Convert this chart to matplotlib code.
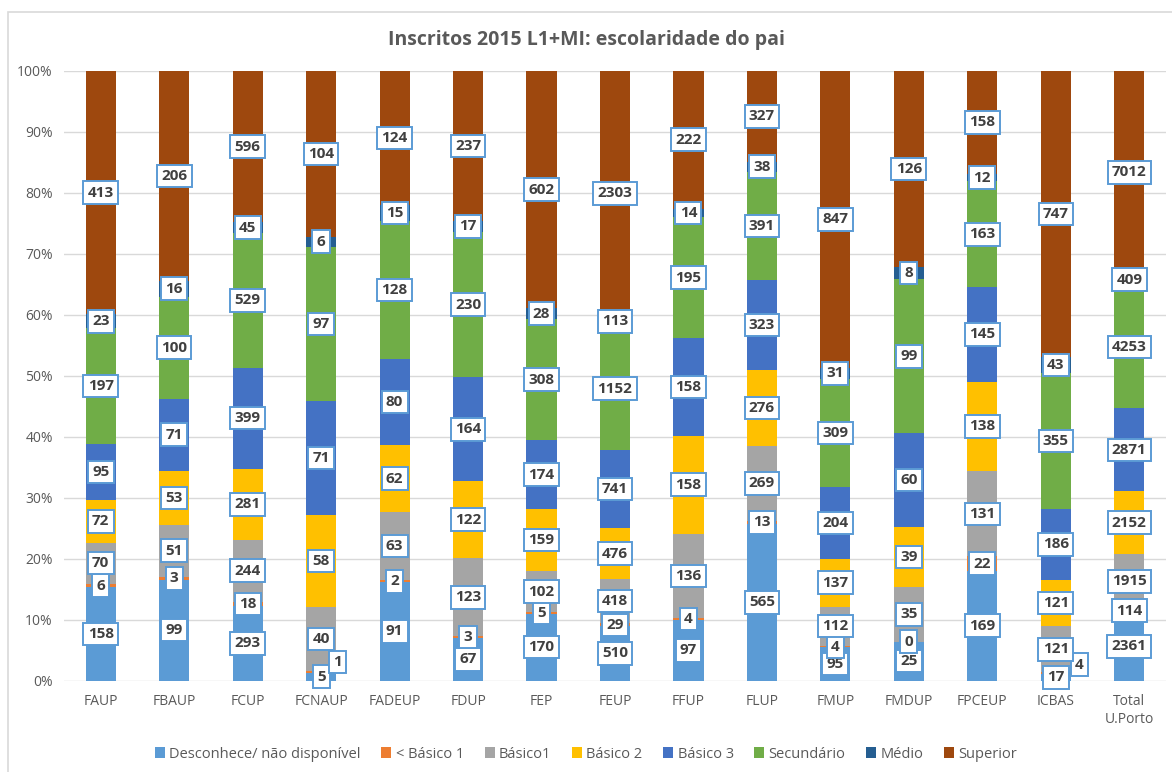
import matplotlib
matplotlib.use("Agg")
import matplotlib.pyplot as plt
import numpy as np
from matplotlib.patches import Rectangle

categories = ["FAUP", "FBAUP", "FCUP", "FCNAUP", "FADEUP", "FDUP", "FEP", "FEUP",
              "FFUP", "FLUP", "FMUP", "FMDUP", "FPCEUP", "ICBAS", "Total\nU.Porto"]
series_names = ["Desconhece/ não disponível", "< Básico 1", "Básico1", "Básico 2",
                "Básico 3", "Secundário", "Médio", "Superior"]

desconhece = [158, 99, 293, 5, 91, 67, 170, 510, 97, 565, 95, 25, 169, 17, 2361]
menos_basico1 = [6, 3, 18, 1, 2, 3, 5, 29, 4, 13, 4, 0, 22, 4, 114]
basico1 = [70, 51, 244, 40, 63, 123, 102, 418, 136, 269, 112, 35, 131, 121, 1915]
basico2 = [72, 53, 281, 58, 62, 122, 159, 476, 158, 276, 137, 39, 138, 121, 2152]
basico3 = [95, 71, 399, 71, 80, 164, 174, 741, 158, 323, 204, 60, 145, 186, 2871]
secundario = [197, 100, 529, 97, 128, 230, 308, 1152, 195, 391, 309, 99, 163, 355, 4253]
medio = [23, 16, 45, 6, 15, 17, 28, 113, 14, 38, 31, 8, 12, 43, 409]
superior = [413, 206, 596, 104, 124, 237, 602, 2303, 222, 327, 847, 126, 158, 747, 7012]

colors = ["#5B9BD5", "#ED7D31", "#A5A5A5", "#FFC000", "#4472C4", "#70AD47", "#255E91", "#9E480E"]

data = np.array([desconhece, menos_basico1, basico1, basico2, basico3,
                 secundario, medio, superior], dtype=float)
totals = data.sum(axis=0)
pct = data / totals * 100

# label displacement (category units, percent) for crowded labels
label_shift = {(1, 3): (0.22, 1.6), (1, 13): (0.32, 1.4)}

plt.rcParams['font.family'] = ['Open Sans', 'DejaVu Sans']
fig = plt.figure(figsize=(11.72, 7.72), dpi=100)
ax = fig.add_axes([64 / 1172, 1 - 680.5 / 772, 1102 / 1172, 609.5 / 772])

x = np.arange(len(categories))
bottom = np.zeros(len(categories))
handles = []
for i, name in enumerate(series_names):
    h = ax.bar(x, pct[i], 0.41, bottom=bottom, color=colors[i], label=name,
               zorder=2, linewidth=0)
    handles.append(h)
    for j in range(len(categories)):
        dx, dy = label_shift.get((i, j), (0, 0))
        yc = bottom[j] + pct[i][j] / 2 + dy
        ax.text(x[j] + dx, yc, f"{int(data[i][j])}", ha="center", va="center",
                fontsize=11, fontweight="bold", color="#404040", zorder=5,
                bbox=dict(boxstyle="square,pad=0.28", facecolor="white",
                          edgecolor="#5B9BD5", linewidth=1.4))
    bottom += pct[i]

ax.set_xlim(-0.5, len(categories) - 0.5)
ax.set_ylim(0, 100)
ax.set_yticks(np.arange(0, 101, 10))
ax.set_yticklabels([f"{v}%" for v in range(0, 101, 10)])
ax.set_xticks(x)
ax.set_xticklabels(categories)
ax.tick_params(axis="both", length=0, colors="#595959", labelsize=10)
ax.tick_params(axis="x", pad=10)
ax.tick_params(axis="y", pad=8)
ax.grid(axis="y", color="#D9D9D9", linewidth=1, zorder=0)
for s in ax.spines.values():
    s.set_visible(False)

fig.text(0.5, 1 - 40 / 772, "Inscritos 2015 L1+MI: escolaridade do pai", ha="center",
         va="center", fontsize=14, fontweight="bold", color="#595959")

fig.legend(handles=handles, labels=series_names, loc="center", ncol=8,
           bbox_to_anchor=(0.5, 1 - 754 / 772), frameon=False, fontsize=10.5,
           handlelength=0.7, handleheight=0.7, handletextpad=0.3, columnspacing=1.4,
           labelcolor="#595959")

# chart-area border
fig.patches.append(Rectangle((8 / 1172, -0.01), 1.2, 1 - 12 / 772 + 0.01,
                             transform=fig.transFigure, fill=False,
                             edgecolor="#D9D9D9", linewidth=1.2))

fig.savefig("out.png", dpi=100)
